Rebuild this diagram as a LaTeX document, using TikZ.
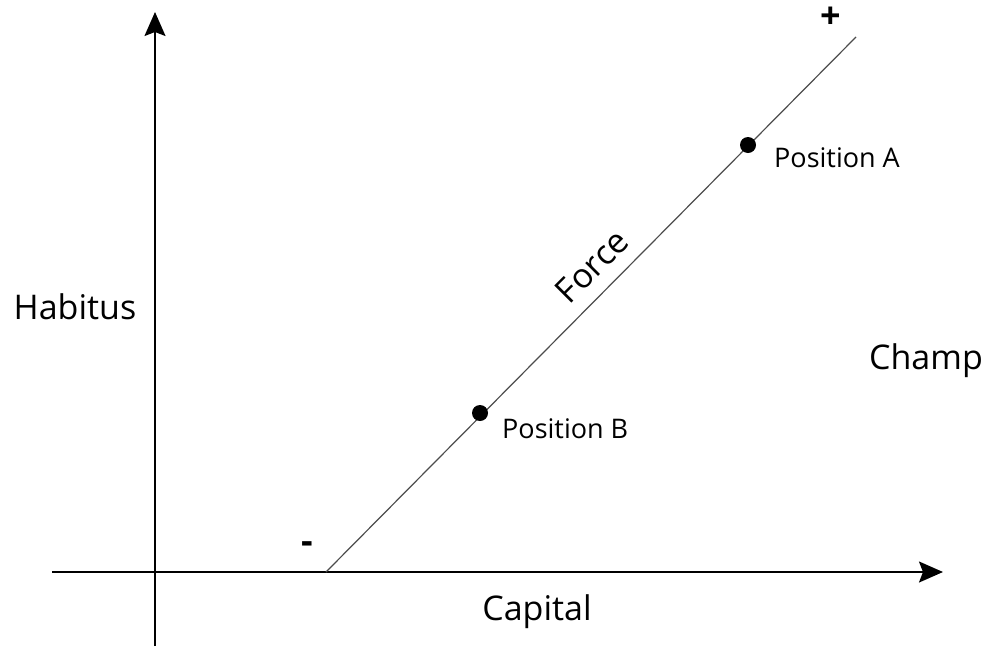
\documentclass[tikz,border=0pt]{standalone}
\usepackage{fontspec}
\setmainfont{Open Sans}
\usetikzlibrary{arrows.meta}
\begin{document}
\begin{tikzpicture}[x=1pt,y=-1pt,
  axis/.style={line width=1.8pt,-{Stealth[length=24pt,width=21pt,inset=4pt]}},
  forceline/.style={line width=1.2pt,draw=black!70},
  dot/.style={circle,fill=black,inner sep=0pt,minimum size=16pt},
  lbl/.style={font=\fontsize{27}{30}\selectfont,anchor=base west,inner sep=0pt},
  big/.style={font=\fontsize{34}{38}\selectfont,anchor=base,inner sep=0pt},
  sign/.style={font=\fontsize{36}{40}\selectfont\bfseries,inner sep=0pt}]
\useasboundingbox (0,0) rectangle (989,646);
\coordinate (ybot) at (155,646);
\coordinate (ytop) at (155,12);
\coordinate (xl) at (52,572);
\coordinate (xr) at (943,572);
\coordinate (fs) at (326,572);
\coordinate (fe) at (856,37);
\draw[axis] (ybot) -- (ytop);
\draw[axis] (xl) -- (xr);
\draw[forceline] (fs) -- (fe);
\node[dot] (pa) at (748,145) {};
\node[dot] (pb) at (480,413) {};
\node[lbl] (la) at (774,167) {Position A};
\node[lbl] (lb) at (502,438) {Position B};
\node[big] (hab) at (75,319) {Habitus};
\node[big] (cha) at (926,369) {Champ};
\node[big] (cap) at (537,620) {Capital};
\node[font=\fontsize{34}{38}\selectfont,inner sep=0pt,rotate=45] (frc) at (592,266) {Force};
\node[sign] (plus) at (831,18) {+};
\node[sign] (minus) at (307,548) {-};
\end{tikzpicture}
\end{document}
